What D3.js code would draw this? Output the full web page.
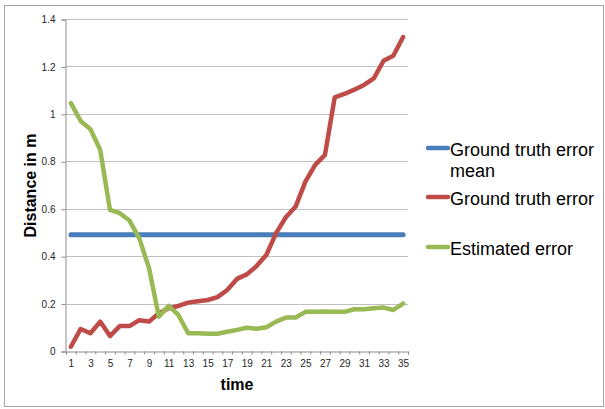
<!DOCTYPE html>
<html>
<head>
<meta charset="utf-8">
<script src="https://cdn.jsdelivr.net/npm/d3@7"></script>
<style>
    body { margin: 0; background: #fff; }
    text { font-family: "Liberation Sans", Arial, sans-serif; }
</style>
</head>
<body>
<div id="chart"></div>
<script>
var times = d3.range(1, 36);
var groundTruthError = [0.018, 0.093, 0.075, 0.124, 0.063, 0.105, 0.105, 0.13, 0.124, 0.159,
    0.18, 0.19, 0.204, 0.21, 0.215, 0.227, 0.257, 0.304, 0.323, 0.358,
    0.405, 0.497, 0.564, 0.609, 0.714, 0.785, 0.827, 1.07, 1.084, 1.102,
    1.122, 1.15, 1.224, 1.245, 1.324];
var estimatedError = [1.045, 0.97, 0.935, 0.848, 0.595, 0.581, 0.55, 0.475, 0.349, 0.145,
    0.19, 0.152, 0.075, 0.075, 0.073, 0.073, 0.081, 0.089, 0.098, 0.094,
    0.1, 0.124, 0.141, 0.141, 0.165, 0.165, 0.167, 0.166, 0.165, 0.176,
    0.176, 0.18, 0.183, 0.173, 0.2];
var groundTruthMean = 0.49;
var yTicks = [0, 0.2, 0.4, 0.6, 0.8, 1, 1.2, 1.4];

var W = 605, H = 409;
var margin = { top: 19, right: 197, bottom: 58, left: 66 };

var svg = d3.select("#chart").append("svg")
    .attr("width", W)
    .attr("height", H);

svg.append("rect")
    .attr("x", 4.5).attr("y", 5.5)
    .attr("width", 599).attr("height", 401)
    .attr("fill", "#fff")
    .attr("stroke", "#a6a6a6");

var x = d3.scaleLinear().domain([0.5, 35.5]).range([margin.left, W - margin.right]);
var y = d3.scaleLinear().domain([0, 1.4]).range([H - margin.bottom, margin.top]);

// gridlines
svg.append("g")
    .selectAll("line")
    .data(yTicks.slice(1))
    .enter()
    .append("line")
    .attr("x1", x(0.5)).attr("x2", x(35.5))
    .attr("y1", function (d) { return Math.round(y(d)) + 0.5; })
    .attr("y2", function (d) { return Math.round(y(d)) + 0.5; })
    .attr("stroke", "#c0c0c0")
    .attr("stroke-width", 1.2);

// y axis
var yAxis = svg.append("g")
    .attr("transform", "translate(" + (margin.left - 0.5) + ",0.5)")
    .call(d3.axisLeft(y).tickValues(yTicks).tickSize(4).tickPadding(6)
        .tickFormat(function (d) { return String(+d.toFixed(1)); }));
yAxis.select(".domain").attr("stroke", "#8c8c8c");
yAxis.selectAll(".tick line").attr("stroke", "#8c8c8c");
yAxis.selectAll(".tick text")
    .attr("font-size", 10)
    .attr("fill", "#262626")
    .style("font-family", "Liberation Sans, Arial, sans-serif");

// x axis: boundary ticks
var xTickAxis = svg.append("g")
    .attr("transform", "translate(0," + (H - margin.bottom + 0.5) + ")")
    .call(d3.axisBottom(x).tickValues(d3.range(0.5, 36, 1)).tickSize(3).tickFormat(""));
xTickAxis.selectAll("path, line").attr("stroke", "#8c8c8c");

// x axis labels
var xLabelAxis = svg.append("g")
    .attr("transform", "translate(0," + (H - margin.bottom + 0.5) + ")")
    .call(d3.axisBottom(x).tickValues(times.filter(function (d) { return d % 2 === 1; }))
        .tickSize(0).tickPadding(8));
xLabelAxis.select(".domain").remove();
xLabelAxis.selectAll(".tick text")
    .attr("font-size", 10)
    .attr("fill", "#262626")
    .style("font-family", "Liberation Sans, Arial, sans-serif");

// series
var line = d3.line()
    .x(function (d, i) { return x(times[i]); })
    .y(function (d) { return y(d); });

svg.append("path")
    .datum(times.map(function () { return groundTruthMean; }))
    .attr("d", line)
    .attr("fill", "none")
    .attr("stroke", "#4a7ebb")
    .attr("stroke-width", 5)
    .attr("stroke-linecap", "round");

svg.append("path")
    .datum(groundTruthError)
    .attr("d", line)
    .attr("fill", "none")
    .attr("stroke", "#be4b48")
    .attr("stroke-width", 4.5)
    .attr("stroke-linejoin", "round")
    .attr("stroke-linecap", "round");

svg.append("path")
    .datum(estimatedError)
    .attr("d", line)
    .attr("fill", "none")
    .attr("stroke", "#98b954")
    .attr("stroke-width", 4.5)
    .attr("stroke-linejoin", "round")
    .attr("stroke-linecap", "round");

// axis titles
svg.append("text")
    .attr("text-anchor", "middle")
    .attr("x", x(18))
    .attr("y", 390)
    .attr("font-size", 16)
    .attr("font-weight", "bold")
    .text("time");

svg.append("text")
    .attr("text-anchor", "middle")
    .attr("transform", "translate(35.5,185.5) rotate(-90)")
    .attr("font-size", 16)
    .attr("font-weight", "bold")
    .text("Distance in m");

// legend
var legendItems = [
    { color: "#4a7ebb", lines: ["Ground truth error", "mean"], y: 148 },
    { color: "#be4b48", lines: ["Ground truth error"], y: 197 },
    { color: "#98b954", lines: ["Estimated error"], y: 247 }
];

var legend = svg.append("g");
legendItems.forEach(function (item) {
    legend.append("line")
        .attr("x1", 428).attr("x2", 448)
        .attr("y1", item.y).attr("y2", item.y)
        .attr("stroke", item.color)
        .attr("stroke-width", 4.5)
        .attr("stroke-linecap", "round");
    var t = legend.append("text")
        .attr("x", 450)
        .attr("y", item.y + 7.5)
        .attr("font-size", 18)
        .attr("fill", "#000");
    item.lines.forEach(function (s, i) {
        t.append("tspan")
            .attr("x", 450)
            .attr("dy", i === 0 ? 0 : 21)
            .text(s);
    });
});
</script>
</body>
</html>
